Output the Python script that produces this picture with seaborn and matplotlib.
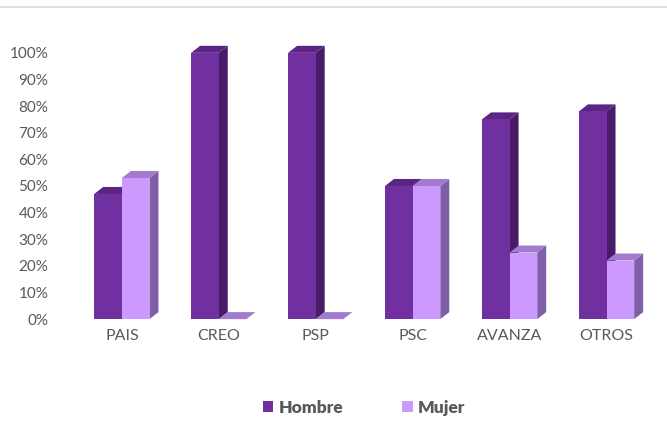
import seaborn as sns
import matplotlib.pyplot as plt
import pandas as pd
from matplotlib.patches import Polygon
from matplotlib.lines import Line2D

partidos = ["PAIS", "CREO", "PSP", "PSC", "AVANZA", "OTROS"]
hombre = [47, 100, 100, 50, 75, 78]
mujer = [53, 0, 0, 50, 25, 22]
sexos = ["Hombre", "Mujer"]

colores = {"Hombre": "#7030A0", "Mujer": "#CC99FF"}
lados = {"Hombre": "#481C68", "Mujer": "#7F60A8"}
techos = {"Hombre": "#5A2585", "Mujer": "#A27BCF"}

df = pd.DataFrame({
    "partido": partidos * 2,
    "sexo": ["Hombre"] * len(partidos) + ["Mujer"] * len(partidos),
    "pct": hombre + mujer,
})

sns.set_theme(style="white")
plt.rcParams['font.family'] = ['Lato', 'DejaVu Sans']

fig = plt.figure(figsize=(6.67, 4.33), dpi=100)
ax = fig.add_axes([0.11, 0.263, 0.872, 0.615])

sns.barplot(data=df, x="partido", y="pct", hue="sexo", order=partidos,
            hue_order=sexos, palette=colores, width=0.57, gap=0,
            saturation=1, linewidth=0, ax=ax)

ax.set_ylim(0, 100)
ax.set_xlim(-0.5, len(partidos) - 0.5)

# profundidad "3D" de las barras (en unidades de datos)
dx = 9 / 97
dy = 7 / 266 * 100

for cont, sexo in zip(ax.containers, sexos):
    for p in cont:
        x0, w, h = p.get_x(), p.get_width(), p.get_height()
        top = Polygon([(x0, h), (x0 + w, h), (x0 + w + dx, h + dy), (x0 + dx, h + dy)],
                      closed=True, facecolor=techos[sexo], edgecolor="none",
                      zorder=0.6, clip_on=False)
        side = Polygon([(x0 + w, 0), (x0 + w, h), (x0 + w + dx, h + dy), (x0 + w + dx, dy)],
                       closed=True, facecolor=lados[sexo], edgecolor="none",
                       zorder=0.5, clip_on=False)
        ax.add_patch(side)
        ax.add_patch(top)

ax.set_yticks(range(0, 101, 10))
ax.set_yticklabels([f"{v}%" for v in range(0, 101, 10)])
ax.set_xlabel("")
ax.set_ylabel("")
for s in ax.spines.values():
    s.set_visible(False)
ax.tick_params(axis="y", length=0, pad=18, labelsize=11, labelcolor="#595959")
ax.tick_params(axis="x", length=0, pad=7, labelsize=11.5, labelcolor="#595959")

sns.move_legend(ax, "center", bbox_to_anchor=(0.5, -0.333), ncol=2,
                frameon=False, title=None, handlelength=0.6, handleheight=0.6,
                handletextpad=0.3, columnspacing=3.4,
                prop={"weight": "heavy", "size": 12.5})
for t in ax.get_legend().get_texts():
    t.set_color("#595959")

fig.add_artist(Line2D([0, 1], [0.983, 0.983], transform=fig.transFigure,
                      color="#d9d9d9", lw=1.2))

fig.savefig("out.png", dpi=100)
